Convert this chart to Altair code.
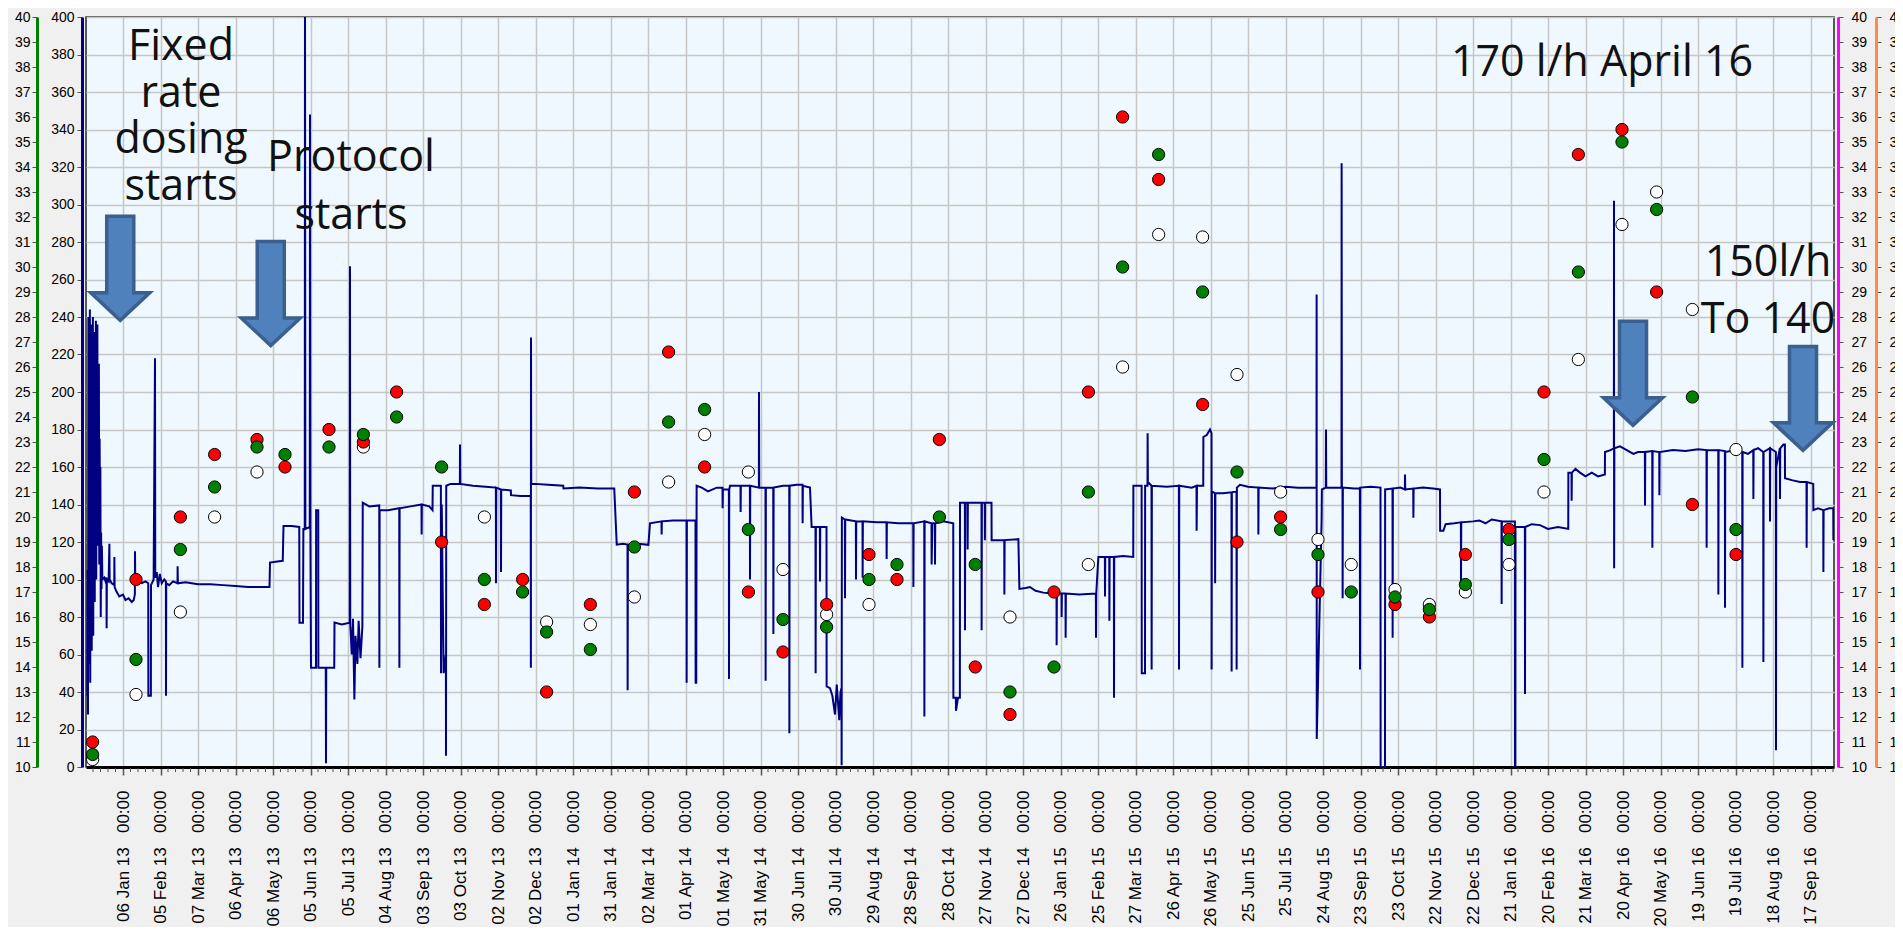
import altair as alt
import pandas as pd

BASE = pd.Timestamp("2013-01-06")

# Flow trace (days after 06 Jan 13, flow value on the 0-400 axis)
FLOW_A = [
    (-28.6, 38), (-28.3, 105), (-28.0, 28), (-27.7, 240), (-27.4, 55), (-27.1, 205), (-26.8, 85),
    (-26.5, 244), (-26.2, 45), (-25.9, 230), (-25.6, 95), (-25.3, 236), (-25.0, 62), (-24.7, 218),
    (-24.4, 120), (-24.1, 240), (-23.8, 70), (-23.5, 228), (-23.2, 130), (-22.9, 232), (-22.6, 88),
    (-22.3, 210), (-22.0, 140), (-21.7, 238), (-21.4, 100), (-21.1, 222), (-20.8, 150), (-20.5, 236),
    (-20.2, 118), (-19.9, 200), (-19.6, 160), (-19.3, 215), (-19.0, 108), (-18.7, 175), (-18.4, 128),
    (-18.1, 160), (-17.8, 80), (-17.5, 125), (-17.2, 95), (-16.9, 118), (-16.5, 100),
    (-15.0, 101), (-14.0, 99), (-13.2, 101), (-13.1, 74), (-12.9, 100), (-11.5, 99), (-10.9, 119),
    (-10.7, 100), (-9.0, 98), (-7.0, 97), (-6.9, 112), (-6.7, 96), (-5.5, 94), (-3.0, 91), (0.0, 92),
    (2.0, 89), (4.5, 90), (7.0, 88), (8.5, 89), (9.5, 92), (9.6, 115), (9.8, 98), (12.0, 99),
    (15.0, 98), (18.0, 99), (20.2, 98), (20.3, 38), (22.3, 38), (22.4, 97), (24.5, 100), (25.6, 218),
    (25.8, 101), (27.0, 104), (28.0, 96), (29.5, 103), (31.0, 98), (33.0, 100), (34.3, 99), (34.4, 38),
    (34.6, 98), (37.0, 97), (40.0, 99), (43.6, 98), (43.7, 107), (43.9, 98), (50.0, 98.5), (60.0, 97.5),
    (70.0, 97.5), (80.0, 97), (90.0, 96.5), (100.0, 96), (110.0, 96), (117.2, 96), (117.6, 109),
    (122.0, 109.5), (127.8, 110), (128.4, 128.5), (135.0, 128.5), (141.0, 128), (141.2, 77), (144.0, 77),
    (144.3, 127), (145.4, 127), (145.6, 420), (145.9, 127), (149.4, 128), (149.6, 348), (149.9, 127),
    (150.4, 53), (154.4, 53), (154.5, 137), (156.2, 137), (156.3, 53), (162.2, 53), (162.4, 2),
    (162.6, 53), (169.0, 53), (169.2, 77), (175.0, 76), (181.4, 77), (181.6, 267), (181.8, 76),
    (183.0, 60), (184.0, 79), (185.1, 36), (186.0, 70), (187.5, 55), (188.5, 78), (190.0, 58),
    (191.5, 75), (191.8, 141), (197.0, 139), (205.0, 139.5), (205.1, 53), (205.3, 137), (212.0, 137),
    (221.0, 138), (221.1, 53), (221.3, 138), (230.0, 139), (238.8, 140), (238.9, 124), (239.1, 140),
    (245.0, 139), (247.6, 137), (247.8, 150), (254.3, 150), (254.4, 50), (255.0, 140), (256.5, 50),
    (258.3, 60), (258.4, 6), (258.6, 150), (262.0, 151), (269.5, 151), (269.6, 172), (269.8, 151),
    (280.0, 150), (290.0, 149.5), (298.3, 149), (298.4, 98), (298.6, 149), (302.3, 148), (302.4, 104),
    (302.6, 148), (310.3, 147.5), (310.4, 145), (318.0, 144.5), (326.2, 144.5), (326.3, 53),
    (326.4, 229), (326.6, 151),
]
FLOW_B = [
    (330.0, 151), (340.0, 150.5), (352.2, 150), (352.4, 148.5), (365.0, 149), (380.0, 148.5),
    (393.0, 148.5), (395.0, 118.6), (400.0, 119), (403.6, 118.6), (403.7, 41), (403.9, 118.6),
    (412.0, 119), (420.3, 118.5), (421.6, 130), (430.8, 131), (430.9, 124), (431.1, 131), (440.0, 131.5),
    (450.8, 131.5), (450.9, 45), (451.1, 131.5), (458.0, 131.5), (458.1, 45), (458.6, 45), (458.9, 150),
    (463.0, 149), (468.0, 147), (475.0, 149), (479.6, 149), (479.7, 138), (479.9, 148), (484.7, 148),
    (484.8, 47), (485.0, 148), (485.6, 150), (494.0, 150), (494.1, 136), (494.3, 150), (501.5, 150),
    (501.6, 100), (501.8, 150), (508.7, 149), (508.8, 200), (509.0, 149), (514.0, 149), (514.1, 46),
    (514.3, 149), (520.2, 149), (520.3, 71), (520.5, 149), (528.0, 150), (533.0, 150), (533.1, 18),
    (533.3, 150), (538.9, 150.5), (543.6, 150.5), (543.7, 130), (543.9, 150), (549.6, 149), (550.9, 128),
    (554.0, 128), (554.1, 50), (554.3, 128), (557.5, 128), (557.6, 99), (557.8, 128), (562.8, 128),
    (562.9, 43), (565.6, 42), (567.5, 38), (569.6, 28), (571.0, 44), (573.0, 25), (574.0, 40),
    (574.8, 42), (574.9, 1), (575.1, 133), (577.5, 132), (577.6, 90), (577.8, 132), (586.3, 131),
    (586.4, 100), (586.6, 131), (591.6, 131), (591.7, 101), (591.9, 131), (603.0, 130.5), (610.8, 130.5),
    (610.9, 111), (611.1, 130.5), (620.0, 130), (632.2, 130), (632.3, 96), (632.5, 130), (641.0, 131),
    (641.1, 27), (641.3, 131), (646.8, 130), (646.9, 108), (647.5, 130), (649.5, 130), (649.6, 108),
    (649.8, 130), (656.3, 131), (664.2, 130), (664.3, 37), (666.3, 37), (666.4, 30), (668.0, 37),
    (669.5, 37), (669.6, 141), (673.5, 141), (673.6, 73), (673.8, 141), (675.6, 141), (675.7, 116),
    (675.9, 141), (685.6, 141),
]
FLOW_C = [
    (686.8, 141), (686.9, 73), (687.1, 141), (689.4, 141), (689.5, 121), (689.7, 141), (694.8, 141),
    (694.9, 121), (700.0, 121), (705.0, 121), (705.1, 92), (705.3, 121), (716.3, 121.5), (717.1, 95),
    (722.0, 95.5), (725.6, 96), (730.0, 94), (736.3, 93), (744.3, 92.4), (746.8, 92.5), (746.9, 65),
    (747.1, 92.5), (750.8, 92.5), (750.9, 80), (751.1, 92.5), (754.0, 92.5), (754.1, 69), (754.3, 92.5),
    (765.0, 92), (778.3, 92.5), (778.4, 69), (778.6, 92.5), (780.3, 112), (785.5, 112), (785.6, 91),
    (785.8, 112), (789.0, 112), (789.1, 78), (789.3, 112), (792.7, 112), (792.8, 37), (793.0, 112),
    (800.0, 112.5), (808.2, 112), (808.3, 150), (814.9, 150), (815.0, 50), (817.6, 50), (817.7, 150),
    (819.6, 150), (819.7, 178), (819.9, 152), (822.8, 150), (822.9, 52), (823.1, 150), (835.0, 149.5),
    (844.7, 150), (844.8, 52), (845.0, 150), (855.0, 149), (858.8, 150), (858.9, 126), (859.2, 150),
    (864.2, 150), (864.3, 176), (867.0, 177), (869.6, 180), (870.8, 178), (870.9, 52), (871.1, 147),
    (873.6, 146), (873.7, 98), (873.9, 146), (880.0, 146), (886.8, 146.5), (886.9, 51), (887.1, 146.5),
    (890.8, 147), (890.9, 52), (891.1, 149), (893.6, 150.5), (900.0, 149.5), (908.2, 149), (908.3, 124),
    (908.5, 149), (920.0, 148.5), (930.0, 149.5), (940.0, 149), (954.8, 149), (954.9, 252), (955.0, 15),
    (958.9, 132), (959.1, 148), (962.3, 149), (962.4, 180), (962.6, 149), (970.0, 149), (974.8, 149),
    (974.9, 322), (975.1, 150), (975.6, 149), (975.7, 90), (975.9, 149), (985.0, 148.5), (989.5, 148.5),
    (989.6, 52), (989.8, 149), (998.0, 149.5), (1006.0, 149), (1006.1, 0), (1009.6, 0), (1009.7, 148),
    (1015.6, 148.5), (1015.7, 69), (1015.9, 148.5), (1022.0, 149), (1025.5, 148), (1025.6, 156),
    (1025.8, 148), (1032.2, 148.5), (1032.3, 133), (1032.5, 148.5), (1040.0, 149), (1048.0, 148.5),
]
FLOW_D = [
    (1053.6, 148), (1053.7, 126), (1056.3, 126), (1058.1, 129.5), (1065.0, 130), (1070.3, 130.5),
    (1070.4, 98), (1070.6, 130.5), (1080.0, 131), (1085.0, 131.5), (1090.0, 130), (1095.0, 132),
    (1102.8, 131), (1102.9, 87), (1103.1, 131), (1109.6, 131), (1113.5, 131), (1113.6, 0), (1113.9, 0),
    (1114.0, 128), (1117.6, 128), (1121.5, 128), (1121.6, 39), (1121.8, 128), (1127.0, 129.5),
    (1133.6, 129), (1140.0, 127), (1148.0, 128), (1156.2, 127), (1156.3, 157), (1158.8, 157),
    (1158.9, 142), (1159.1, 157), (1162.0, 159), (1165.6, 157), (1170.0, 155), (1175.0, 157),
    (1180.0, 155), (1185.5, 156), (1185.6, 168), (1190.0, 169), (1192.7, 170), (1192.8, 302),
    (1192.9, 106), (1193.1, 170), (1197.6, 171), (1203.0, 169), (1208.3, 167), (1212.0, 168),
    (1217.5, 168), (1217.6, 139.5), (1217.8, 168), (1223.4, 168.5), (1223.5, 117), (1223.7, 168.5),
    (1229.0, 168), (1229.1, 145), (1229.3, 168), (1240.0, 169), (1250.0, 168.5), (1260.0, 169.5),
    (1266.8, 169), (1266.9, 117), (1267.1, 169), (1276.2, 169), (1276.3, 92), (1276.5, 169),
    (1281.5, 168.5), (1281.6, 85), (1281.8, 168), (1290.0, 169), (1295.4, 168), (1295.5, 53),
    (1295.7, 168), (1300.0, 167), (1304.2, 169), (1304.3, 143), (1304.5, 169), (1308.0, 170),
    (1312.2, 168), (1312.3, 56), (1312.5, 168), (1317.5, 170), (1317.6, 131), (1317.8, 170),
    (1322.3, 168), (1322.4, 9), (1322.6, 160), (1325.5, 170), (1325.6, 143), (1325.8, 170),
    (1328.3, 172), (1329.5, 172), (1329.6, 154), (1335.0, 153), (1341.6, 152), (1346.8, 152),
    (1346.9, 117), (1347.1, 152), (1352.2, 151), (1352.3, 137), (1356.0, 138), (1360.2, 137),
    (1360.3, 104), (1360.5, 137), (1365.0, 138), (1368.2, 138), (1368.3, 121),
]

# Sample results (10-40 axes)
SAMPLE_DAY = [-24.3, 10.4, 45.9, 73.3, 107.2, 129.6, 164.8, 192.3, 218.9, 254.9, 289.1, 319.7,
              338.9, 373.9, 409.1, 436.5, 465.3, 500.3, 528.0, 562.9, 596.8, 619.2, 653.1, 681.8,
              709.6, 744.8, 772.3, 799.7, 828.5, 863.7, 891.2, 926.1, 956.0, 982.6, 1017.6, 1045.1,
              1073.9, 1108.8, 1136.8, 1164.3, 1199.2, 1226.9, 1255.5, 1290.4]
RED = [11.0, 17.5, 20.0, 22.5, 23.1, 22.0, 23.5, 23.0, 25.0, 19.0, 16.5, 17.5,
       13.0, 16.5, 21.0, 26.6, 22.0, 17.0, 14.6, 16.5, 18.5, 17.5, 23.1, 14.0,
       12.1, 17.0, 25.0, 36.0, 33.5, 24.5, 19.0, 20.0, 17.0, None, 16.5, 16.0,
       18.5, 19.5, 25.0, 34.5, 35.5, 29.0, 20.5, 18.5]
GREEN = [10.5, 14.3, 18.7, 21.2, 22.8, 22.5, 22.8, 23.3, 24.0, 22.0, 17.5, 17.0,
         15.4, 14.7, 18.8, 23.8, 24.3, 19.5, 15.9, 15.6, 17.5, 18.1, 20.0, 18.1,
         13.0, 14.0, 21.0, 30.0, 34.5, 29.0, 21.8, 19.5, 18.5, 17.0, 16.8, 16.3,
         17.3, 19.1, 22.3, 29.8, 35.0, 32.3, 24.8, 19.5]
WHITE = [10.3, 12.9, 16.2, 20.0, 21.8, None, None, 22.8, None, None, 20.0, None,
         15.8, 15.7, 16.8, 21.4, 23.3, 21.8, 17.9, 16.1, 16.5, None, None, None,
         16.0, None, 18.1, 26.0, 31.3, 31.2, 25.7, 21.0, 19.1, 18.1, 17.1, 16.5,
         17.0, 18.1, 21.0, 26.3, 31.7, 33.0, 28.3, 22.7]

ANNOT_TEXT = ["Fixed", "rate", "dosing", "starts", "Protocol", "starts",
              "170 l/h April 16", "150l/h", "To 140"]
ANNOT_DAY = [46.4, 46.4, 46.4, 46.4, 182.4, 182.4, 1183.2, 1316.0, 1316.0]
ANNOT_VALUE = [384.0, 359.2, 334.4, 309.6, 324.6, 294.0, 375.5, 269.0, 238.5]

ARROW_DAY = [-2.2, 118.2, 1208.0, 1344.0]
ARROW_VALUE = [266.0, 252.5, 210.0, 196.6]


def to_time(days):
    return BASE + pd.to_timedelta(pd.Series(days, dtype=float), unit="D")


def dt(ts):
    return alt.DateTime(year=ts.year, month=ts.month, date=ts.day,
                        hours=ts.hour, minutes=ts.minute)


flow = pd.DataFrame(FLOW_A + FLOW_B + FLOW_C + FLOW_D, columns=["day", "flow"])
flow["t"] = to_time(flow["day"]).values

samples = pd.DataFrame({"day": SAMPLE_DAY, "red": RED, "green": GREEN, "white": WHITE})
samples["t"] = to_time(samples["day"]).values

annot = pd.DataFrame({"text": ANNOT_TEXT, "day": ANNOT_DAY, "v": ANNOT_VALUE})
annot["t"] = to_time(annot["day"]).values
arrows = pd.DataFrame({"day": ARROW_DAY, "v": ARROW_VALUE})
arrows["t"] = to_time(arrows["day"]).values

major = pd.date_range(BASE, periods=46, freq="30D")
minor_days = [6 * k for k in range(-4, 229) if k % 5 != 0]
minor = pd.DataFrame({"t": to_time(minor_days).values})

x_domain = [dt(BASE - pd.Timedelta(days=29.6)), dt(BASE + pd.Timedelta(days=1368.8))]
FONT = "Liberation Sans"

x_axis = alt.Axis(
    values=[alt.DateTime(year=d.year, month=d.month, date=d.day) for d in major],
    format="%d %b %y\u00a0\u00a0\u00a0%H:%M", labelAngle=270, labelFont=FONT,
    labelFontSize=17, labelColor="#000", labelPadding=15, labelOverlap=False, labelFlush=False,
    tickSize=8, tickColor="#555", tickWidth=1.5, domainColor="#000", domainWidth=3,
    grid=True, gridColor="#c6c6c6", gridWidth=1.5, title=None,
)


def xenc():
    return alt.X("t:T", scale=alt.Scale(domain=x_domain, nice=False), axis=x_axis)


def yaxis(orient, offset, color, values, pad, grid=False):
    return alt.Axis(
        orient=orient, offset=offset, values=values, domainColor=color, domainWidth=3,
        tickColor="#555", tickSize=5, tickWidth=1, labelFont=FONT, labelFontSize=14,
        labelColor="#000", labelPadding=pad, labelFlush=False, labelOverlap=False,
        grid=grid, gridColor="#c6c6c6", gridWidth=1.5, title=None,
    )


s40 = alt.Scale(domain=[10, 40], nice=False, zero=False)
s400 = alt.Scale(domain=[0, 400], nice=False, zero=False)
units = list(range(10, 41))

line = alt.Chart(flow).mark_line(color="#000080", strokeWidth=2, clip=True).encode(
    x=xenc(),
    y=alt.Y("flow:Q", scale=s400, axis=yaxis("left", 4, "#000080", list(range(0, 401, 20)), 3, True)),
)

ticks = alt.Chart(minor).mark_rule(color="#555", strokeWidth=1).encode(
    x=xenc(), y=alt.value(751), y2=alt.value(755)
)


def dots(col, fill, axis):
    return alt.Chart(samples).transform_filter(f"isValid(datum.{col})").mark_point(
        shape="circle", filled=True, fill=fill, stroke="#000", strokeWidth=1, size=150, opacity=1
    ).encode(x=xenc(), y=alt.Y(f"{col}:Q", scale=s40, axis=axis))


white = dots("white", "#ffffff", yaxis("right", 42, "#ff8c40", units, 8))
red = dots("red", "#ff0000", yaxis("right", 4, "#ff00ff", units, 8))
green = dots("green", "#008000", yaxis("left", 49, "#008000", units, 2))

ARROW = "M -0.26 -1 L 0.26 -1 L 0.26 0.47 L 0.567 0.47 L 0 1 L -0.567 0.47 L -0.26 0.47 Z"
arrow_layer = alt.Chart(arrows).mark_point(
    shape=ARROW, size=10816, filled=True, fill="#4f81bd", stroke="#3b5f8e", strokeWidth=3.5, opacity=1
).encode(x=xenc(), y=alt.Y("v:Q", scale=s400, axis=None))

text_layer = alt.Chart(annot).mark_text(
    font="Open Sans", fontSize=43, color="#111", align="center", baseline="middle"
).encode(x=xenc(), y=alt.Y("v:Q", scale=s400, axis=None), text="text:N")

chart = alt.layer(line, ticks, white, red, green, arrow_layer, text_layer).resolve_scale(
    y="independent"
).properties(
    width=1748, height=750,
    autosize=alt.AutoSizeParams(type="none"),
    padding={"left": 78, "top": 9, "right": 61, "bottom": 160},
    background="#f0f0f0",
).configure_view(fill="#eef8fe", stroke="#222", strokeWidth=1.5)

chart.save("out.html", embed_options={"renderer": "svg", "actions": False})
